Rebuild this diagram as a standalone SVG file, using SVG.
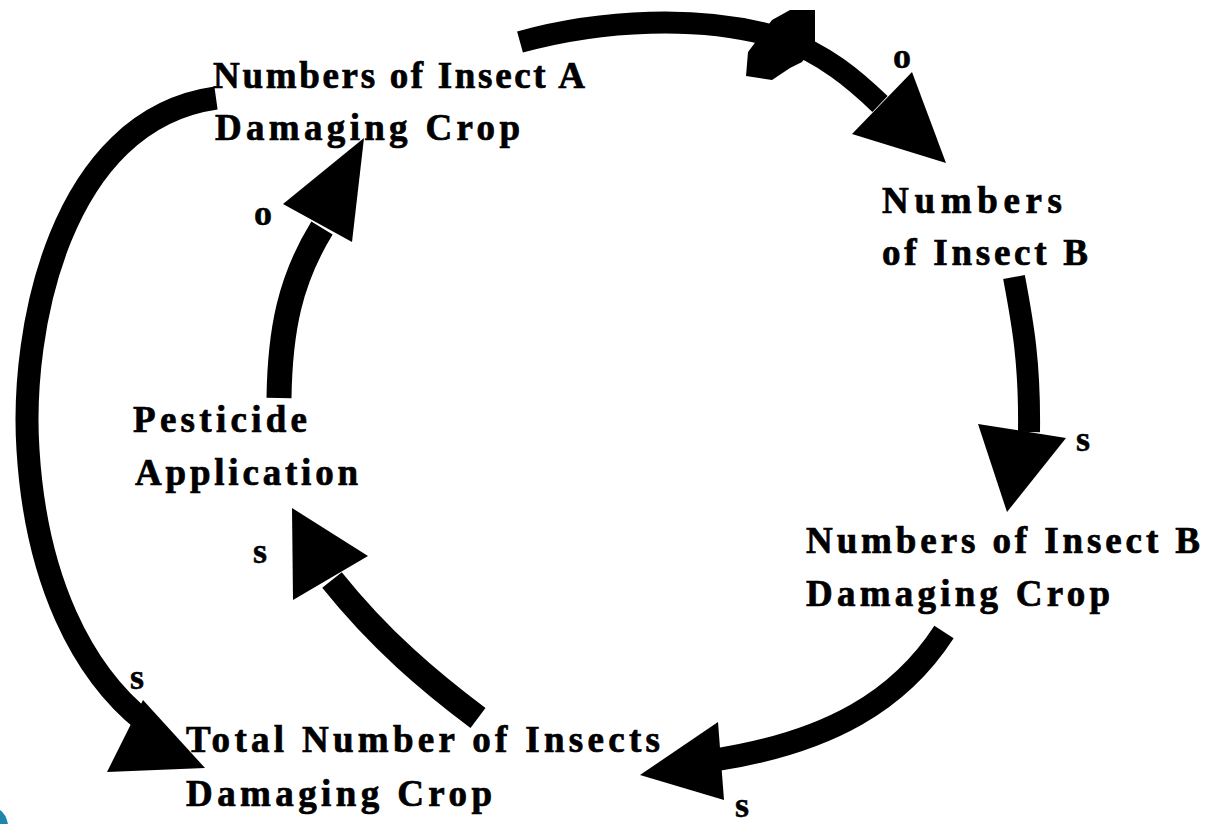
<svg xmlns="http://www.w3.org/2000/svg" width="1210" height="824" viewBox="0 0 1210 824">
<style>
.t{font-family:"Liberation Serif","Times New Roman",serif;font-weight:bold;font-size:37px;fill:#000;stroke:#000;stroke-width:0.7}
.l{font-family:"Liberation Serif","Times New Roman",serif;font-weight:bold;font-size:36px;fill:#000;stroke:#000;stroke-width:0.5}
.s{fill:none;stroke:#000;stroke-width:22}
.h{fill:#000}
</style>
<rect width="1210" height="824" fill="#fff"/>
<path d="M0,810 Q6,814 8,824 L0,824 Z" fill="#1f86ad"/>
<g id="connectors">
  <!-- A damaging -> Insect B -->
  <path class="s" d="M520,42 C600,20 700,14 780,38 C825,54 855,80 880,104"/>
  <polygon class="h" points="748,52 772,20 790,10 815,10 815,44 802,62 790,68 772,80 746,76"/>
  <polygon class="h" points="852,134 912,72 946,163"/>
  <!-- Insect B -> B damaging -->
  <path class="s" d="M1014,277 C1022,320 1030,360 1029,432"/>
  <polygon class="h" points="978,424 1066,438 1007,512"/>
  <!-- B damaging -> Total -->
  <path class="s" style="stroke-width:23" d="M944,632 C900,700 830,742 715,760"/>
  <polygon class="h" points="640,775 718,722 724,800"/>
  <!-- Total -> Pesticide -->
  <path class="s" style="stroke-width:25" d="M478,718 C430,682 380,640 332,580"/>
  <polygon class="h" points="292,508 368,556 293,600"/>
  <!-- Pesticide -> A damaging -->
  <path class="s" style="stroke-width:25" d="M279,398 C280,330 290,280 322,228"/>
  <polygon class="h" points="283,204 364,138 352,242"/>
  <!-- A damaging -> Total -->
  <path class="s" style="stroke-width:23" d="M216,98 C60,120 20,330 28,450 C36,580 82,672 145,722"/>
  <polygon class="h" points="143,700 107,772 205,768"/>
  <!-- polarity labels -->
  <text class="l" x="902" y="68" text-anchor="middle">o</text>
  <text class="l" x="263" y="225" text-anchor="middle">o</text>
  <text class="l" x="1083" y="451" text-anchor="middle">s</text>
  <text class="l" x="260" y="563" text-anchor="middle">s</text>
  <text class="l" x="137" y="689" text-anchor="middle">s</text>
  <text class="l" x="742" y="817" text-anchor="middle">s</text>
</g>
<g id="node-insect-a-damaging">
  <text class="t" x="213" y="88" textLength="372" lengthAdjust="spacing">Numbers of Insect A</text>
  <text class="t" x="215" y="140" textLength="305" lengthAdjust="spacing">Damaging Crop</text>
</g>
<g id="node-insect-b">
  <text class="t" x="882" y="213" textLength="180" lengthAdjust="spacing">Numbers</text>
  <text class="t" x="882" y="265" textLength="206" lengthAdjust="spacing">of Insect B</text>
</g>
<g id="node-pesticide">
  <text class="t" x="133" y="432" textLength="174" lengthAdjust="spacing">Pesticide</text>
  <text class="t" x="135" y="485" textLength="223" lengthAdjust="spacing">Application</text>
</g>
<g id="node-insect-b-damaging">
  <text class="t" x="806" y="553" textLength="394" lengthAdjust="spacing">Numbers of Insect B</text>
  <text class="t" x="806" y="606" textLength="304" lengthAdjust="spacing">Damaging Crop</text>
</g>
<g id="node-total">
  <text class="t" x="186" y="752" textLength="474" lengthAdjust="spacing">Total Number of Insects</text>
  <text class="t" x="186" y="806" textLength="306" lengthAdjust="spacing">Damaging Crop</text>
</g>
</svg>
